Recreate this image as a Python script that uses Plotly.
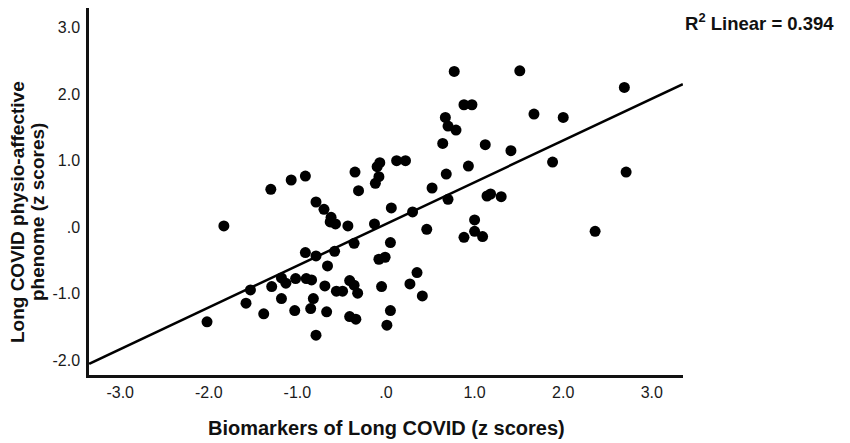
import plotly.graph_objects as go

# biomarker z scores (x) and physio-affective phenome z scores (y)
biomarker_z = [
    -2.02, -1.83, -1.58, -1.53, -1.38, -1.29, -1.18, -1.18, -1.13, -1.02,
    -1.03, -0.90, -0.84, -0.82, -0.85, -0.79, -0.91, -0.79, -0.58, -0.66,
    -0.69, -0.67, -0.56, -0.49, -0.41, -0.36, -0.32, -0.41, -0.34, -0.36,
    -1.30, -1.07, -0.91, -0.79, -0.70, -0.62, -0.63, -0.57, -0.43, -0.35,
    -0.31, 0.64, 1.12, 1.41, -0.07, -0.10, -0.08, -0.12, 0.12, 0.22,
    0.93, 0.68, 0.52, 0.70, 0.06, 0.30, 1.14, 1.18, 1.30, -0.13,
    0.46, 1.00, 1.00, 0.88, 1.09, 0.05, -0.08, -0.01, -0.05, 0.35,
    0.27, 0.41, 0.05, 0.01, 2.36, 0.77, 1.51, 2.69, 0.88, 0.97,
    0.67, 0.70, 0.79, 1.67, 2.00, 1.88, 2.71,
]
phenome_z = [
    -1.42, 0.02, -1.14, -0.94, -1.30, -0.89, -1.07, -0.76, -0.84, -0.77,
    -1.25, -0.77, -0.79, -1.07, -1.22, -1.62, -0.38, -0.43, -0.36, -0.58,
    -0.88, -1.27, -0.96, -0.96, -0.80, -0.87, -0.99, -1.34, -1.38, -0.24,
    0.57, 0.71, 0.77, 0.38, 0.27, 0.15, 0.08, 0.05, 0.02, 0.83,
    0.55, 1.26, 1.24, 1.15, 0.97, 0.91, 0.76, 0.66, 1.00, 1.00,
    0.92, 0.80, 0.59, 0.42, 0.29, 0.23, 0.47, 0.50, 0.46, 0.05,
    -0.03, 0.11, -0.06, -0.15, -0.14, -0.23, -0.48, -0.45, -0.89, -0.68,
    -0.85, -1.03, -1.25, -1.47, -0.06, 2.34, 2.35, 2.10, 1.84, 1.84,
    1.65, 1.52, 1.46, 1.70, 1.65, 0.98, 0.83,
]

# fitted line ends as drawn
fit_x = [-3.35, 3.35]
fit_y = [-2.05, 2.15]

x_tick_vals = [-3, -2, -1, 0, 1, 2, 3]
x_tick_text = ["-3.0", "-2.0", "-1.0", ".0", "1.0", "2.0", "3.0"]
y_tick_vals = [-2, -1, 0, 1, 2, 3]
y_tick_text = ["-2.0", "-1.0", ".0", "1.0", "2.0", "3.0"]

fig = go.Figure()

fig.add_trace(go.Scatter(x=biomarker_z, y=phenome_z, mode='markers',
                         marker=dict(size=11, color='black'),
                         showlegend=False))

fig.add_trace(go.Scatter(x=fit_x, y=fit_y, mode='lines',
                         line=dict(color='black', width=2.5),
                         showlegend=False))

family = "Liberation Sans, Arial"
axis_font = dict(family=family, size=16, color='#1a1a1a')
title_font = dict(family=family, size=20, color='#111')
ytitle_font = dict(family=family, size=19, color='#111')

# page body adds 8px, so the figure is 8px smaller than the window
fig.update_layout(
    template='none',
    width=842, height=435,
    margin=dict(l=81, r=167, t=0, b=68),
    plot_bgcolor='white',
    paper_bgcolor='white',
    xaxis=dict(range=[-3.352, 3.352], tickvals=x_tick_vals, ticktext=x_tick_text,
               showgrid=False, zeroline=False, showline=True, automargin=False,
               linecolor='#111', linewidth=2.5, ticks='',
               tickfont=axis_font, ticklabelstandoff=1),
    yaxis=dict(range=[-2.218, 3.293], tickvals=y_tick_vals, ticktext=y_tick_text,
               showgrid=False, zeroline=False, showline=True, automargin=False,
               linecolor='#111', linewidth=2.5, ticks='',
               tickfont=axis_font, ticklabelstandoff=3),
    annotations=[
        dict(text="<b>R<sup>2</sup> Linear = 0.394</b>",
             xref='paper', yref='paper', x=1.0, y=0.962,
             xanchor='left', yanchor='middle', showarrow=False,
             font=dict(family=family, size=18.5, color='#111')),
        dict(text="<b>Biomarkers of Long COVID (z scores)</b>",
             xref='paper', yref='paper', x=0.5, y=-0.1444,
             xanchor='center', yanchor='middle', showarrow=False, font=title_font),
        dict(text="<b>Long COVID physio-affective</b>", textangle=-90,
             xref='paper', yref='paper', x=-0.1212, y=0.444,
             xanchor='center', yanchor='middle', showarrow=False, font=ytitle_font),
        dict(text="<b>phenome (z scores)</b>", textangle=-90,
             xref='paper', yref='paper', x=-0.0875, y=0.444,
             xanchor='center', yanchor='middle', showarrow=False, font=ytitle_font),
    ],
)

fig.write_html("out.html")
